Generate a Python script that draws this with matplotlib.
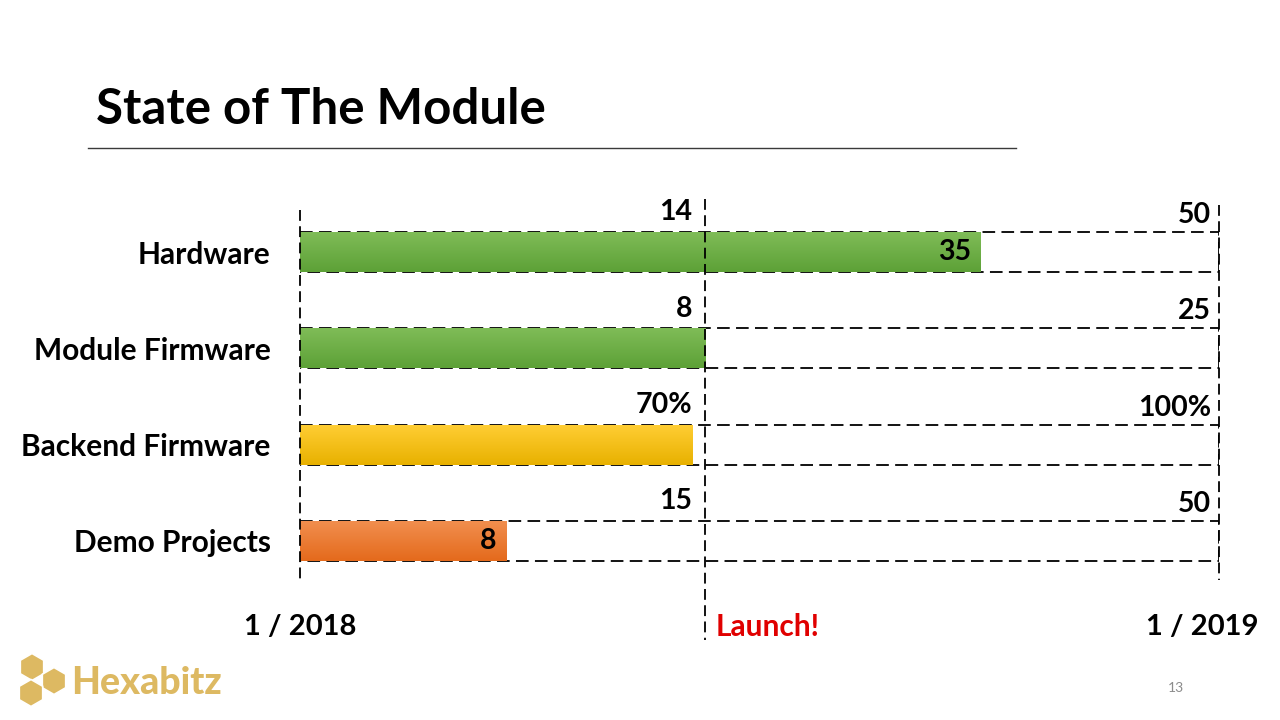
import numpy as np
import matplotlib
matplotlib.use("Agg")
import matplotlib.pyplot as plt
import matplotlib.transforms as mtransforms
from matplotlib.colors import LinearSegmentedColormap
from matplotlib.patches import RegularPolygon

plt.rcParams['font.family'] = ['Lato', 'DejaVu Sans']
plt.rcParams['font.weight'] = 'bold'

# === Données ===
categories = ['Hardware', 'Module Firmware', 'Backend Firmware', 'Demo Projects']
progress_month = [8.89, 5.29, 5.13, 2.70]
done_labels = ['35', '', '', '8']
launch_labels = ['14', '8', '70%', '15']
target_labels = ['50', '25', '100%', '50']
launch_month = 5.29
timeline_end = 12
date_ticks = [0, 12]
date_labels = ['1 / 2018', '1 / 2019']
bar_colors = [('#7FBC57', '#5DA137'), ('#7FBC57', '#5DA137'),
              ('#FFCD33', '#E8B100'), ('#F18E4E', '#E46A1C')]

fig = plt.figure(figsize=(12.8, 7.2), dpi=100)

# === Décor de la diapo (coordonnées pixel) ===
bg = fig.add_axes([0, 0, 1, 1])
bg.set_xlim(0, 1280)
bg.set_ylim(720, 0)
bg.axis('off')
bg.text(96, 124, 'State of The Module', fontsize=35.5, fontweight='bold', va='baseline')
bg.plot([88, 1016], [148, 148], color='#3a3a3a', lw=1)
gold = '#DDB962'
for cx, cy in [(32, 667), (54, 681), (31, 693)]:
    bg.add_patch(RegularPolygon((cx, cy), 6, radius=13.5, orientation=0, color=gold, ec='white', lw=1.2))
bg.text(71, 694, 'Hexabitz', fontsize=27, fontweight='black', color=gold, va='baseline')
bg.text(1176, 688, '13', fontsize=10, fontweight='normal', color='#8c8c8c', ha='center', va='center')

# === Graphique ===
ax = fig.add_axes([300 / 1280, 1 - 600 / 720, 919 / 1280, 410 / 720])
rows = np.arange(len(categories))
h = 0.415
dash = (0, (7, 3.5))

# cadres pointillés (objectif)
ax.barh(rows, [timeline_end] * len(rows), height=h, left=0, fill=False,
        edgecolor='black', linestyle=dash, lw=1.3, zorder=1)

bars = ax.barh(rows, progress_month, height=h, color=[c[1] for c in bar_colors], zorder=2)
grad = np.linspace(0, 1, 64).reshape(-1, 1)
for b, (c_top, c_bot) in zip(bars, bar_colors):
    cmap = LinearSegmentedColormap.from_list('g', [c_top, c_bot])
    x0, y0 = b.get_x(), b.get_y()
    im = ax.imshow(grad, cmap=cmap, aspect='auto', zorder=3,
                   extent=[x0, x0 + b.get_width(), y0 + b.get_height(), y0])
    im.set_clip_path(b)

# lignes verticales
vdash = (0, (6, 3))
ax.plot([0, 0], [-0.44, 3.41], color='black', lw=1.3, ls=vdash, zorder=4, clip_on=False)
ax.plot([timeline_end] * 2, [-0.49, 3.41], color='black', lw=1.3, ls=vdash, zorder=4, clip_on=False)
ax.plot([launch_month] * 2, [-0.55, 4.03], color='black', lw=1.3, ls=vdash, zorder=4, clip_on=False)

lbl = dict(fontsize=20.5, fontweight='bold', color='black')
for r, dl, ll, tl, p in zip(rows, done_labels, launch_labels, target_labels, progress_month):
    ax.text(launch_month - 0.17, r - 0.33, ll, ha='right', va='baseline', **lbl)
    ax.text(timeline_end - 0.1, r - 0.30, tl, ha='right', va='baseline', **lbl)
    if dl:
        ax.text(p - 0.13, r, dl, ha='right', va='center', zorder=5, **lbl)

ax.text(launch_month + 0.14, 3.89, 'Launch!', ha='left', va='center', fontsize=21.5,
        fontweight='bold', color='#E00000')

ax.set_xlim(0, timeline_end)
ax.set_ylim(3.614, -0.644)
ax.set_yticks(rows, categories, fontsize=21.5, fontweight='bold')
ax.set_xticks(date_ticks, date_labels, fontsize=21, fontweight='bold')
ax.tick_params(axis='y', length=0, pad=21)
ax.tick_params(axis='x', length=0, pad=10)
# décaler "1 / 2019" vers la gauche
shift = mtransforms.ScaledTranslation(-17 / 100, 0, fig.dpi_scale_trans)
xl = ax.get_xticklabels()
xl[-1].set_transform(xl[-1].get_transform() + shift)
for s in ax.spines.values():
    s.set_visible(False)

fig.savefig('out.png', dpi=100)
